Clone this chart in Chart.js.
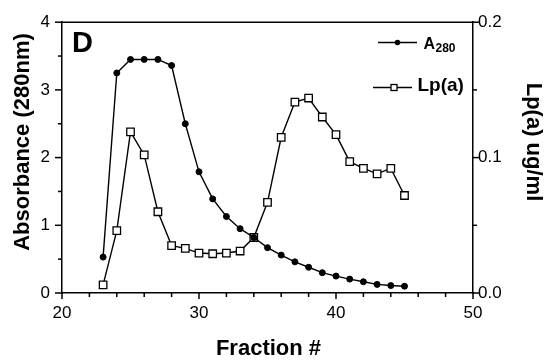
<!DOCTYPE html>
<html><head><meta charset="utf-8">
<script src="https://cdn.jsdelivr.net/npm/chart.js@4.4.1/dist/chart.umd.min.js"></script>
<style>html,body{margin:0;padding:0;background:#fff;}</style>
</head><body>
<canvas id="c" width="545" height="360" style="width:545px;height:360px;display:block"></canvas>
<script>
// ---- data ----
const fractions = [23,24,25,26,27,28,29,30,31,32,33,34,35,36,37,38,39,40,41,42,43,44,45];
const a280 = [0.53,3.25,3.45,3.45,3.45,3.36,2.50,1.79,1.39,1.13,0.95,0.82,0.67,0.56,0.46,0.38,0.30,0.25,0.205,0.166,0.127,0.11,0.10];
const lpa = [0.006,0.046,0.119,0.102,0.060,0.035,0.033,0.0295,0.029,0.0295,0.031,0.041,0.067,0.115,0.141,0.144,0.130,0.117,0.097,0.092,0.088,0.092,0.072];
const xTickLabels = [20,30,40,50];
const xMinorTicks = [22,24,26,28,32,34,36,38,42,44,46,48];
const yTickLabels = [0,1,2,3,4];
const yMinorTicks = [0.5,1.5,2.5,3.5];
const y1TickLabels = [0.0,0.1,0.2];
const y1MinorTicks = [0.05,0.15];
const panelLabel = 'D';
const xTitle = 'Fraction #';
const yTitle = 'Absorbance (280nm)';
const y1Title = 'Lp(a) ug/ml';

const FONT = "'Liberation Sans', Arial, Helvetica, sans-serif";
const tickFont = {family: FONT, size: 17};

function setTicks(values){
  return function(scale){ scale.ticks = values.map(v => ({value: v})); };
}

const decor = {
  id: 'decor',
  afterDraw(chart){
    const ctx = chart.ctx;
    const {left, right, top, bottom} = chart.chartArea;
    const xs = chart.scales.x, ys = chart.scales.y, y1s = chart.scales.y1;
    ctx.save();
    ctx.strokeStyle = '#000';
    ctx.lineWidth = 1.5;
    const line = (x1,y1,x2,y2) => { ctx.beginPath(); ctx.moveTo(x1,y1); ctx.lineTo(x2,y2); ctx.stroke(); };
    // top frame
    line(left, top, right, top);
    // x ticks
    xTickLabels.forEach(v => { const p = xs.getPixelForValue(v); line(p, bottom, p, bottom + 6); });
    xMinorTicks.forEach(v => { const p = xs.getPixelForValue(v); line(p, bottom, p, bottom + 4); });
    // left ticks
    yTickLabels.forEach(v => { const p = ys.getPixelForValue(v); line(left - 7, p, left, p); });
    yMinorTicks.forEach(v => { const p = ys.getPixelForValue(v); line(left - 4, p, left, p); });
    // right ticks
    y1TickLabels.forEach(v => { const p = y1s.getPixelForValue(v); line(right, p, right + 6, p); });
    y1MinorTicks.forEach(v => { const p = y1s.getPixelForValue(v); line(right, p, right + 4, p); });

    ctx.fillStyle = '#000';
    // panel label
    ctx.font = `bold 29px ${FONT}`;
    ctx.textAlign = 'left'; ctx.textBaseline = 'alphabetic';
    ctx.fillText(panelLabel, 72, 52);

    // axis titles
    ctx.font = `bold 22px ${FONT}`;
    ctx.textAlign = 'center';
    ctx.fillText(xTitle, (left + right) / 2 + 1, 355);
    ctx.save();
    ctx.translate(23, 142); ctx.rotate(-Math.PI / 2);
    ctx.textBaseline = 'middle';
    ctx.fillText(yTitle, 0, 0);
    ctx.restore();
    ctx.save();
    ctx.translate(533, 142); ctx.rotate(Math.PI / 2);
    ctx.textBaseline = 'middle';
    ctx.fillText(y1Title, 0, 0);
    ctx.restore();

    // legend
    ctx.lineWidth = 1.3;
    line(378, 42.5, 417, 42.5);
    ctx.beginPath(); ctx.arc(397.5, 42.5, 2.8, 0, Math.PI * 2); ctx.fill();
    ctx.textAlign = 'left'; ctx.textBaseline = 'alphabetic';
    ctx.font = `bold 16px ${FONT}`;
    ctx.fillText('A', 423.5, 48.5);
    ctx.font = `bold 12px ${FONT}`;
    ctx.fillText('280', 435.5, 52);
    line(373, 87.5, 412, 87.5);
    ctx.fillStyle = '#fff';
    ctx.fillRect(391, 84.5, 6, 6);
    ctx.strokeRect(391, 84.5, 6, 6);
    ctx.fillStyle = '#000';
    ctx.font = `bold 19px ${FONT}`;
    ctx.fillText('Lp(a)', 417.5, 90.5);
    ctx.restore();
  }
};

new Chart(document.getElementById('c'), {
  type: 'line',
  data: {
    datasets: [
      {
        label: 'A280',
        data: fractions.map((f, i) => ({x: f, y: a280[i]})),
        yAxisID: 'y',
        borderColor: '#000', borderWidth: 1.4,
        pointStyle: 'circle', pointRadius: 3, pointBackgroundColor: '#000', pointBorderColor: '#000', pointBorderWidth: 1,
        tension: 0
      },
      {
        label: 'Lp(a)',
        data: fractions.map((f, i) => ({x: f, y: lpa[i]})),
        yAxisID: 'y1',
        borderColor: '#000', borderWidth: 1.4,
        pointStyle: 'rect', pointRadius: 5.3, pointBackgroundColor: '#fff', pointBorderColor: '#000', pointBorderWidth: 1.3,
        tension: 0
      }
    ]
  },
  options: {
    responsive: false,
    animation: false,
    devicePixelRatio: 1,
    layout: {padding: {top: 20, left: 0, right: 0, bottom: 0}},
    plugins: {legend: {display: false}, tooltip: {enabled: false}},
    elements: {line: {fill: false}},
    scales: {
      x: {
        type: 'linear', position: 'bottom', min: 20, max: 50,
        afterBuildTicks: setTicks(xTickLabels),
        ticks: {font: tickFont, color: '#000', padding: 10, maxRotation: 0, autoSkip: false, callback: v => String(v)},
        grid: {display: false, drawTicks: false},
        border: {display: true, color: '#000', width: 1.5},
        afterFit(s){ s.height = 67; }
      },
      y: {
        type: 'linear', position: 'left', min: 0, max: 4,
        afterBuildTicks: setTicks(yTickLabels),
        ticks: {font: tickFont, color: '#000', padding: 12, autoSkip: false, callback: v => String(v)},
        grid: {display: false, drawTicks: false},
        border: {display: true, color: '#000', width: 1.5},
        afterFit(s){ s.width = 62; }
      },
      y1: {
        type: 'linear', position: 'right', min: 0, max: 0.2,
        afterBuildTicks: setTicks(y1TickLabels),
        ticks: {font: tickFont, color: '#000', padding: 5, autoSkip: false, callback: v => Number(v).toFixed(1)},
        grid: {display: false, drawTicks: false},
        border: {display: true, color: '#000', width: 1.5},
        afterFit(s){ s.width = 72; }
      }
    }
  },
  plugins: [decor]
});
</script>
</body></html>
